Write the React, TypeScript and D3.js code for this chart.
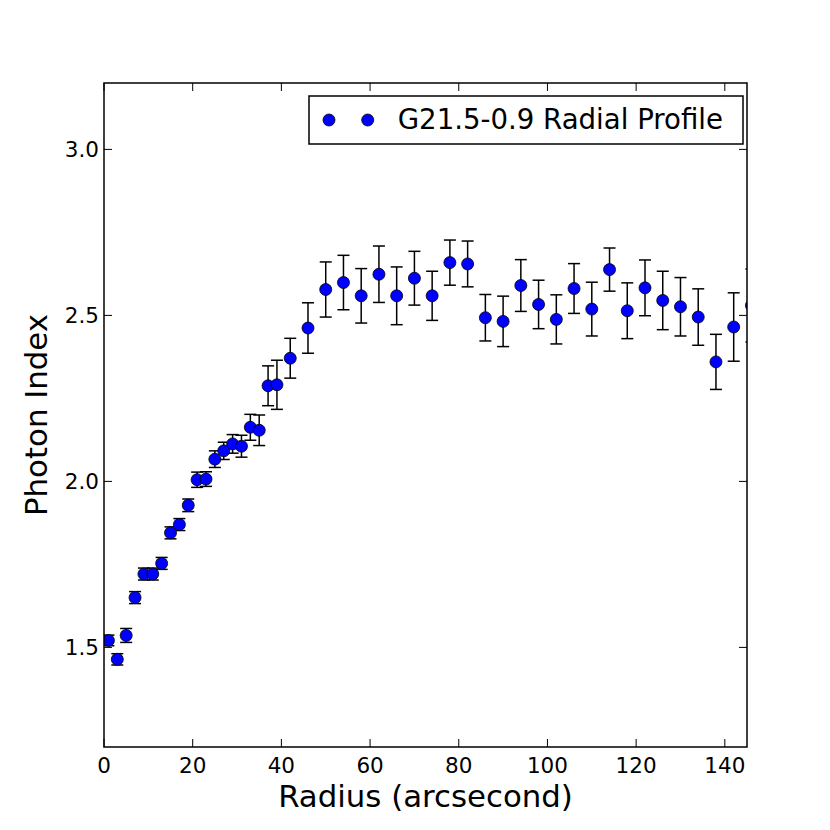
import * as d3 from "d3";

// radial bins (arcsec) and fitted photon index with 1-sigma errors
const RADIUS = [
  1, 3, 5, 7, 9, 11, 13, 15, 17, 19, 21, 23, 25, 27, 29, 31, 33, 35, 37, 39,
  42, 46, 50, 54, 58, 62, 66, 70, 74, 78, 82, 86, 90, 94, 98, 102, 106, 110,
  114, 118, 122, 126, 130, 134, 138, 142, 146,
];
const PHOTON_INDEX = [
  1.521, 1.464, 1.536, 1.65, 1.721, 1.721, 1.753, 1.845, 1.87, 1.928, 2.005,
  2.007, 2.067, 2.092, 2.113, 2.106, 2.163, 2.154, 2.288, 2.291, 2.371, 2.462,
  2.578, 2.599, 2.559, 2.624, 2.559, 2.612, 2.559, 2.659, 2.655, 2.493, 2.482,
  2.59, 2.533, 2.488, 2.581, 2.519, 2.638, 2.514, 2.583, 2.545, 2.526, 2.495,
  2.36, 2.465, 2.53,
];
const ERROR = [
  0.016, 0.017, 0.021, 0.018, 0.018, 0.018, 0.018, 0.018, 0.018, 0.019, 0.023,
  0.022, 0.025, 0.026, 0.028, 0.033, 0.039, 0.046, 0.06, 0.074, 0.06, 0.076,
  0.083, 0.082, 0.082, 0.085, 0.087, 0.081, 0.074, 0.068, 0.069, 0.07, 0.076,
  0.078, 0.073, 0.074, 0.075, 0.081, 0.065, 0.084, 0.084, 0.088, 0.088, 0.085,
  0.083, 0.103, 0.11,
];
const X_TICKS = [0, 20, 40, 60, 80, 100, 120, 140];
const Y_TICKS = [1.5, 2.0, 2.5, 3.0];
const LEGEND_LABEL = "G21.5-0.9 Radial Profile";

const W = 830;
const H = 830;
const ML = 104;
const MR = 83;
const MT = 83;
const MB = 83;
const FONT = "'DejaVu Sans', sans-serif";
const TICK_LEN = 8;

export default function App() {
  const x = d3.scaleLinear().domain([0, 145]).range([ML, W - MR]);
  const y = d3.scaleLinear().domain([1.2, 3.2]).range([H - MB, MT]);
  const [x0, x1] = x.range();
  const [y1, y0] = y.range();

  const points = RADIUS.map((r, i) => ({
    r,
    v: PHOTON_INDEX[i],
    e: ERROR[i],
  }));

  const legRight = x1 - 4;
  const legTop = y0 + 13;

  return (
    <svg
      width={W}
      height={H}
      style={{ position: "absolute", left: 0, top: 0, background: "#fff" }}
      fontFamily={FONT}
    >
      <defs>
        <clipPath id="plot-area">
          <rect x={x0} y={y0} width={x1 - x0} height={y1 - y0} />
        </clipPath>
      </defs>
      <rect width={W} height={H} fill="#fff" />

      <g clipPath="url(#plot-area)">
        {points.map((p) => (
          <g key={`e${p.r}`} stroke="#000" strokeWidth={1.5}>
            <line x1={x(p.r)} x2={x(p.r)} y1={y(p.v - p.e)} y2={y(p.v + p.e)} />
            <line x1={x(p.r) - 6} x2={x(p.r) + 6} y1={y(p.v - p.e)} y2={y(p.v - p.e)} />
            <line x1={x(p.r) - 6} x2={x(p.r) + 6} y1={y(p.v + p.e)} y2={y(p.v + p.e)} />
          </g>
        ))}
        {points.map((p) => (
          <circle
            key={`m${p.r}`}
            cx={x(p.r)}
            cy={y(p.v)}
            r={6}
            fill="#0000ff"
            stroke="#000"
            strokeWidth={0.8}
          />
        ))}
      </g>

      {/* ticks on all four sides, pointing in */}
      <g stroke="#000" strokeWidth={1}>
        {X_TICKS.map((t) => (
          <g key={`xt${t}`}>
            <line x1={x(t)} x2={x(t)} y1={y1} y2={y1 - TICK_LEN} />
            <line x1={x(t)} x2={x(t)} y1={y0} y2={y0 + TICK_LEN} />
          </g>
        ))}
        {Y_TICKS.map((t) => (
          <g key={`yt${t}`}>
            <line x1={x0} x2={x0 + TICK_LEN} y1={y(t)} y2={y(t)} />
            <line x1={x1} x2={x1 - TICK_LEN} y1={y(t)} y2={y(t)} />
          </g>
        ))}
      </g>

      <rect
        x={x0}
        y={y0}
        width={x1 - x0}
        height={y1 - y0}
        fill="none"
        stroke="#000"
        strokeWidth={1.5}
      />

      <g fontSize={21.5} fill="#000">
        {X_TICKS.map((t) => (
          <text key={`xl${t}`} x={x(t)} y={y1 + 25.5} textAnchor="middle">
            {t}
          </text>
        ))}
        {Y_TICKS.map((t) => (
          <text
            key={`yl${t}`}
            x={x0 - 5}
            y={y(t)}
            dy="0.36em"
            textAnchor="end"
          >
            {d3.format(".1f")(t)}
          </text>
        ))}
      </g>

      <text
        x={(x0 + x1) / 2}
        y={y1 + 60}
        textAnchor="middle"
        fontSize={30.8}
      >
        Radius (arcsecond)
      </text>
      <text
        transform={`translate(47,${(y0 + y1) / 2}) rotate(-90)`}
        textAnchor="middle"
        fontSize={30.8}
      >
        Photon Index
      </text>

      <g>
        <rect
          x={legRight - 434}
          y={legTop}
          width={434}
          height={48}
          fill="#fff"
          stroke="#000"
          strokeWidth={1.5}
        />
        {[20, 58.7].map((dx) => (
          <circle
            key={dx}
            cx={legRight - 434 + dx}
            cy={legTop + 24}
            r={6}
            fill="#0000ff"
            stroke="#000"
            strokeWidth={0.8}
          />
        ))}
        <text x={legRight - 434 + 88.7} y={legTop + 32.5} fontSize={27.6}>
          {LEGEND_LABEL}
        </text>
      </g>
    </svg>
  );
}
